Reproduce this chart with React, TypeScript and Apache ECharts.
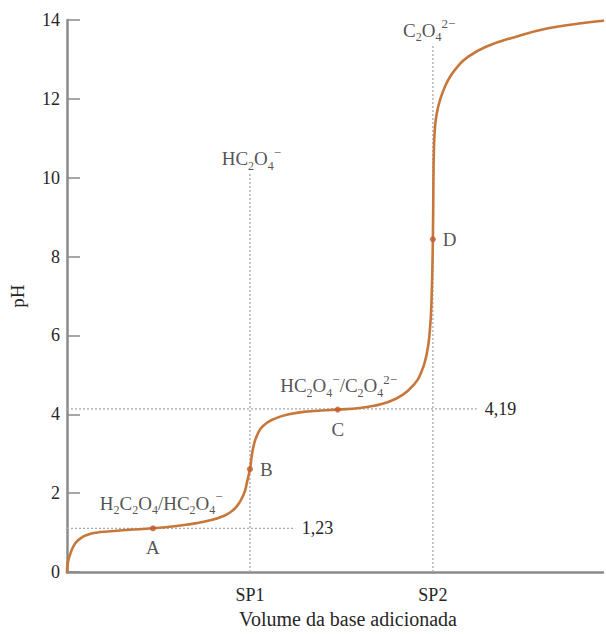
import React, { useEffect, useRef } from "react";
import * as echarts from "echarts";

// Titration curve (volume in units of SP1, pH)
const curveVolume = [
  0, 0.005, 0.021, 0.038, 0.059, 0.085, 0.113, 0.16, 0.22, 0.33, 0.47, 0.56, 0.65,
  0.76, 0.86, 0.91, 0.945, 0.97, 0.985, 1.0, 1.01, 1.022, 1.04, 1.07, 1.13, 1.22,
  1.33, 1.48, 1.6, 1.68, 1.76, 1.83, 1.89, 1.935, 1.965, 1.983, 1.993, 2.0, 2.003,
  2.006, 2.012, 2.022, 2.04, 2.065, 2.094, 2.135, 2.185, 2.29, 2.45, 2.63, 2.8, 2.93,
];
const curvePH = [
  0, 0.25, 0.5, 0.68, 0.8, 0.89, 0.95, 1.0, 1.03, 1.07, 1.11, 1.15, 1.2, 1.29,
  1.43, 1.58, 1.78, 2.02, 2.3, 2.61, 2.94, 3.24, 3.48, 3.7, 3.88, 4.01, 4.08, 4.12,
  4.16, 4.22, 4.32, 4.48, 4.72, 5.05, 5.5, 6.1, 6.95, 8.44, 9.9, 10.75, 11.3,
  11.65, 11.98, 12.3, 12.56, 12.82, 13.04, 13.32, 13.57, 13.79, 13.91, 13.98,
];

const pointNames = ["A", "B", "C", "D"];
const pointVolume = [0.47, 1.0, 1.48, 2.0];
const pointPH = [1.11, 2.61, 4.12, 8.44];

const yTicks = [0, 2, 4, 6, 8, 10, 12, 14];
const xTickValues = [1, 2];
const xTickLabels = ["SP1", "SP2"];

// reference (dotted) lines
const hLinePH = [1.11, 4.14];
const hLineEnd = [1.24, 2.24];
const hLineLabels = ["1,23", "4,19"];
const vLineVolume = [1, 2];
const vLineTop = [10.1, 13.4];

// species annotations: [volume, pH]
const speciesAnchors = [
  [0.515, 1.74],
  [1.485, 4.72],
  [1.008, 10.48],
  [1.98, 13.74],
];
const speciesTexts = [
  "H{s|2}C{s|2}O{s|4}/HC{s|2}O{s|4}{p|−}",
  "HC{s|2}O{s|4}{p|−}/C{s|2}O{s|4}{p|2−}",
  "HC{s|2}O{s|4}{p|−}",
  "C{s|2}O{s|4}{p|2−}",
];

const FONT = "'Liberation Serif', 'Times New Roman', serif";
const TEXT = "#262626";
const AXIS = "#8a8a8a";
const CURVE = "#c8773a";
const DOT = "#c45a2c";
const REF = "#a3a9b0";

export default function App() {
  const ref = useRef<HTMLDivElement>(null);

  useEffect(() => {
    if (!ref.current) return;
    const chart = echarts.init(ref.current, undefined, { renderer: "svg" });

    const rich = {
      b: { fontFamily: FONT, fontSize: 19, color: TEXT, lineHeight: 26, verticalAlign: "middle" },
      s: { fontFamily: FONT, fontSize: 12, color: TEXT, lineHeight: 12, verticalAlign: "bottom" },
      p: { fontFamily: FONT, fontSize: 13, color: TEXT, lineHeight: 12, verticalAlign: "top" },
    };

    const curveData = curveVolume.map((v, i) => [v, curvePH[i]]);
    const pointData = pointNames.map((n, i) => ({
      name: n,
      value: [pointVolume[i], pointPH[i]],
    }));
    const pointLabelPos = ["bottom", "right", "bottom", "right"];

    const series: any[] = [];

    hLinePH.forEach((p, i) => {
      series.push({
        type: "line",
        data: [
          [0, p],
          [hLineEnd[i], p],
        ],
        symbol: "none",
        silent: true,
        lineStyle: { color: REF, width: 1.3, type: [2, 2] },
        endLabel: {
          show: true,
          formatter: hLineLabels[i],
          fontFamily: FONT,
          fontSize: 18,
          color: TEXT,
          distance: 8,
        },
        z: 1,
      });
    });
    vLineVolume.forEach((v, i) => {
      series.push({
        type: "line",
        data: [
          [v, 0],
          [v, vLineTop[i]],
        ],
        symbol: "none",
        silent: true,
        lineStyle: { color: REF, width: 1.3, type: [2, 2] },
        z: 1,
      });
    });

    series.push({
      type: "line",
      data: curveData,
      symbol: "none",
      smooth: 0.5,
      clip: false,
      lineStyle: { color: CURVE, width: 2.6, cap: "round", join: "round" },
      z: 3,
    });

    series.push({
      type: "scatter",
      data: pointData.map((d, i) => ({
        ...d,
        label: { position: pointLabelPos[i] },
      })),
      symbolSize: 6,
      itemStyle: { color: DOT },
      label: {
        show: true,
        formatter: "{b}",
        fontFamily: FONT,
        fontSize: 19,
        color: TEXT,
        distance: 7,
      },
      z: 4,
    });

    series.push({
      type: "scatter",
      data: speciesAnchors.map((a, i) => ({ value: a, text: speciesTexts[i] })),
      symbolSize: 0,
      silent: true,
      label: {
        show: true,
        position: "inside",
        formatter: (p: any) =>
          p.data.text.replace(/(^|\})([^{}]+?)(?=\{|$)/g, (_m: string, a: string, b: string) => `${a}{b|${b}}`),
        rich,
      },
      z: 5,
    });

    chart.setOption({
      animation: false,
      backgroundColor: "#ffffff",
      grid: { left: 59, right: 0, top: 20, bottom: 57 },
      xAxis: {
        type: "value",
        min: 0,
        max: 2.93,
        interval: 1,
        name: "Volume da base adicionada",
        nameLocation: "middle",
        nameGap: 36,
        nameTextStyle: {
          fontFamily: FONT,
          fontSize: 20,
          color: TEXT,
          padding: [0, 0, 0, 26],
        },
        axisLine: { lineStyle: { color: AXIS, width: 2.5 } },
        axisTick: { show: false },
        splitLine: { show: false },
        axisLabel: {
          fontFamily: FONT,
          fontSize: 18,
          color: TEXT,
          margin: 14,
          formatter: (v: number) => {
            const idx = xTickValues.indexOf(v);
            return idx >= 0 ? xTickLabels[idx] : "";
          },
        },
      },
      yAxis: {
        type: "value",
        min: yTicks[0],
        max: yTicks[yTicks.length - 1],
        interval: 2,
        name: "pH",
        nameLocation: "middle",
        nameGap: 40,
        nameTextStyle: { fontFamily: FONT, fontSize: 19, color: TEXT },
        axisLine: { show: true, lineStyle: { color: AXIS, width: 2.5 } },
        axisTick: { show: true, inside: true, length: 13, lineStyle: { color: AXIS, width: 1.5 } },
        splitLine: { show: false },
        axisLabel: { fontFamily: FONT, fontSize: 18, color: TEXT, margin: 7 },
      },
      series,
    });

    return () => chart.dispose();
  }, []);

  return (
    <div
      ref={ref}
      style={{ position: "fixed", left: 0, top: 0, width: 606, height: 634, background: "#fff" }}
    />
  );
}
